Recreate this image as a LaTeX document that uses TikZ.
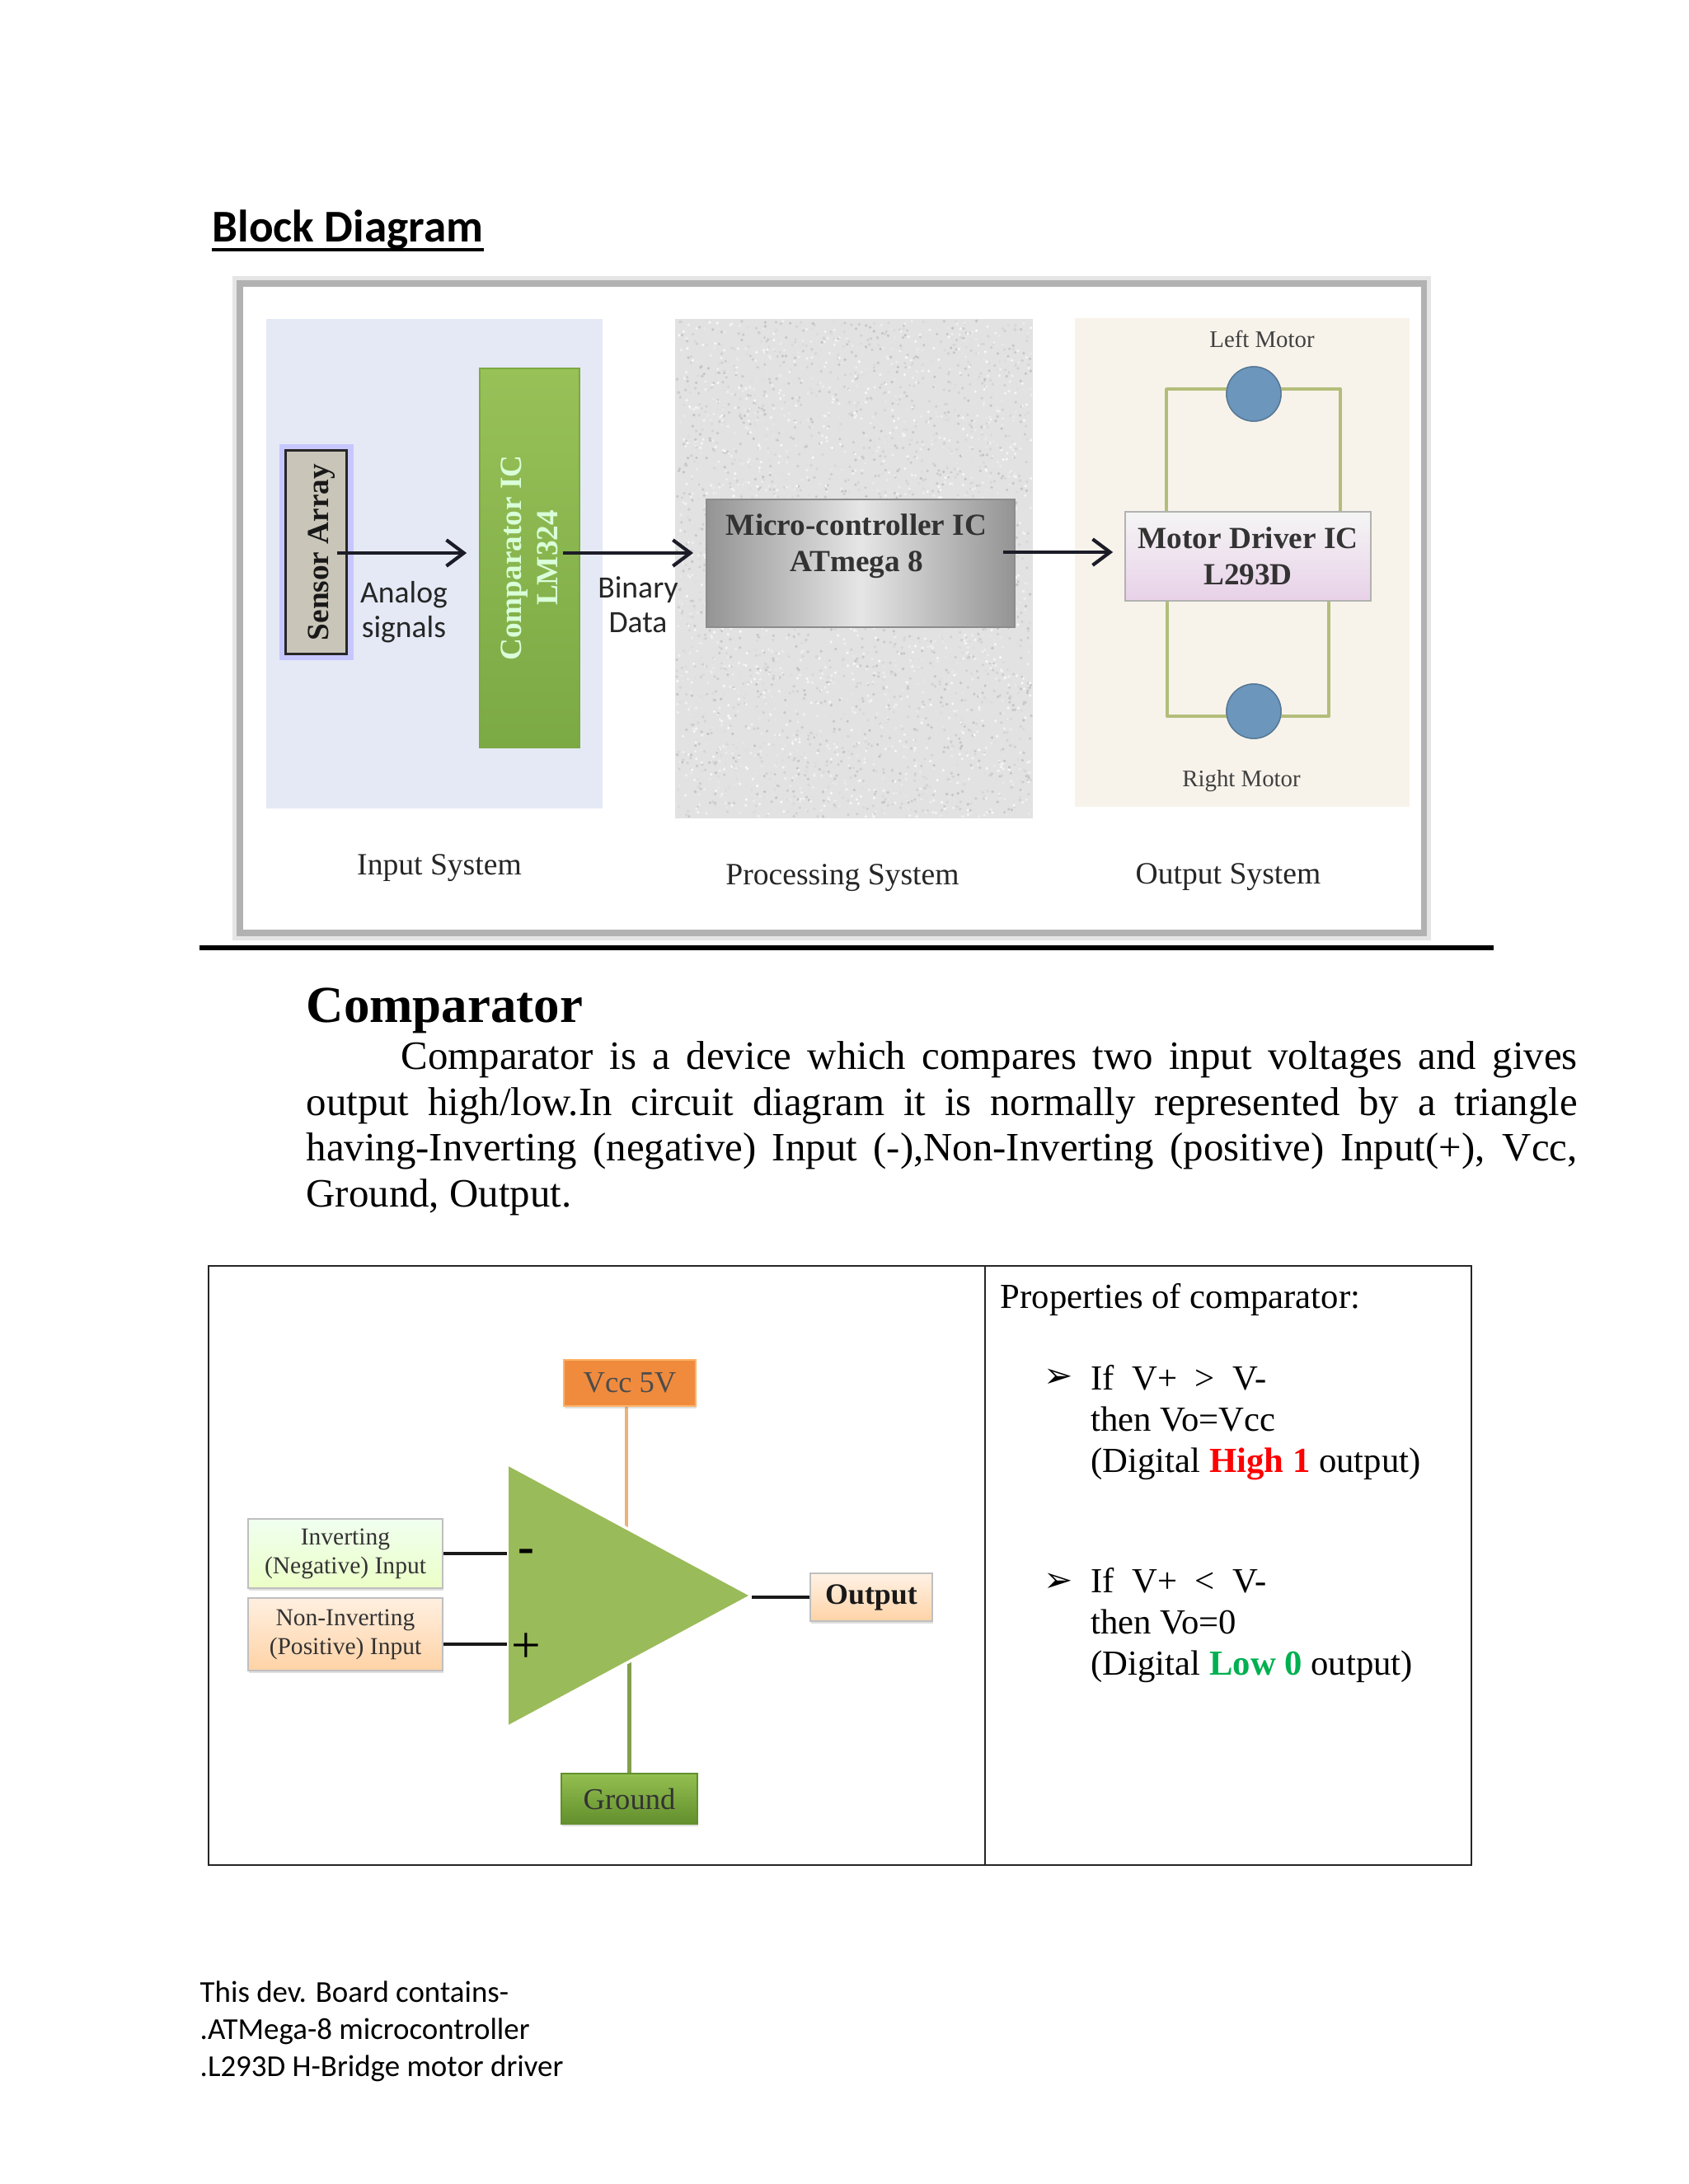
\documentclass[tikz,border=0pt]{standalone}
\usepackage{fontspec}
\setmainfont{Liberation Serif}
\newfontfamily\calibrifont{Carlito}
\newfontfamily\dingfont{DejaVu Sans}
\usepackage{tikz}
\usetikzlibrary{shapes.geometric, arrows.meta, positioning, calc, backgrounds, shadows}

\definecolor{inputbg}{HTML}{E4E9F5}
\definecolor{procbg}{HTML}{E2E2E2}
\definecolor{outputbg}{HTML}{F8F3EA}
\definecolor{wiregreen}{HTML}{B3BD7A}
\definecolor{motorblue}{HTML}{6C96BC}
\definecolor{opampgreen}{HTML}{9ABB59}
\definecolor{darkarrow}{HTML}{1C1C28}
\definecolor{sensorfill}{HTML}{C9C6B9}
\definecolor{comptop}{HTML}{98C158}
\definecolor{compbot}{HTML}{7BA944}
\definecolor{groundtop}{HTML}{93BF50}
\definecolor{groundbot}{HTML}{638F2D}
\definecolor{vccfill}{HTML}{F08B3E}
\definecolor{lowgreen}{HTML}{00B050}

\newcommand{\fullline}[1]{\makebox[15.42cm][s]{#1}}

\begin{document}
\begin{tikzpicture}[
    panel/.style={rectangle, inner sep=0pt},
    chip/.style={rectangle, inner sep=0pt, align=center, text=black!80, font=\fontsize{10.6}{12.5}\selectfont\bfseries},
    tag/.style={rectangle, inner sep=0pt, align=center, draw=black!25, line width=0.6pt, text=black!80, font=\fontsize{8.4}{10}\selectfont, drop shadow={opacity=0.25, shadow xshift=0.3pt, shadow yshift=-0.8pt}},
    caption/.style={inner sep=0pt, align=center, text=black!85, font=\fontsize{10.7}{12.5}\selectfont},
    small/.style={inner sep=0pt, text=black!75, font=\fontsize{8.2}{10}\selectfont},
    note/.style={inner sep=0pt, align=center, text=black!85, font=\calibrifont\fontsize{10.7}{12}\selectfont},
    props/.style={anchor=north west, inner sep=0pt, align=left, font=\fontsize{12.15}{14.15}\selectfont},
    bullet/.style={inner sep=0pt, font=\dingfont\fontsize{12}{12}\selectfont},
    cell/.style={rectangle, draw=black!85, line width=0.6pt},
    motor/.style={circle, inner sep=0pt, minimum size=0.66cm, fill=motorblue, draw=motorblue!80!black, line width=0.4pt},
    wire/.style={draw=wiregreen, line width=1.1pt, line join=round},
    lead/.style={draw=black!90, line width=1pt},
    arrow/.style={-{Straight Barb[length=6pt,width=9pt,line width=1.2pt]}, draw=darkarrow, line width=1.3pt}
]
\useasboundingbox (0,0) rectangle (20.48,-26.5);

% Heading of the first section
\node[anchor=base west, inner sep=0pt, font=\calibrifont\fontsize{15.7}{18}\selectfont\bfseries] (blockhead) at (2.57,-2.93) {Block Diagram};
\draw[line width=1.2pt] (blockhead.south west) -- (blockhead.south east);

% Outer frame and the three system panels
\node[panel, minimum width=14.36cm, minimum height=7.88cm, fill=white, draw=gray!60, line width=2pt, preaction={draw=gray!20, line width=5pt}] (frame) at (10.09,-7.38) {};
\node[panel, minimum width=4.08cm, minimum height=5.94cm, fill=inputbg] (inputpanel) at (5.27,-6.84) {};
\node[panel, minimum width=4.34cm, minimum height=6.06cm, fill=procbg] (procpanel) at (10.36,-6.90) {};
\node[panel, minimum width=4.06cm, minimum height=5.93cm, fill=outputbg] (outputpanel) at (15.07,-6.825) {};

% Grain of the processing panel
\pgfmathsetseed{17}
\foreach \n in {1,...,4000}{
    \pgfmathsetmacro{\px}{8.21+4.30*rnd}
    \pgfmathsetmacro{\py}{-3.89-6.02*rnd}
    \pgfmathsetmacro{\tone}{2+22*rnd}
    \fill[black!\tone] (\px,\py) circle (0.018);
}

% Input system
\node[panel, minimum width=0.90cm, minimum height=2.62cm, fill=blue!22!white] (sensorglow) at (3.835,-6.70) {};
\node[chip, minimum width=0.74cm, minimum height=2.47cm, fill=sensorfill, draw=black!85, line width=1pt] (sensor) at (3.835,-6.70) {};
\node[chip, rotate=90, text=black!90] (sensortext) at ([xshift=0.07cm]sensor.center) {Sensor Array};
\node[chip, minimum width=1.21cm, minimum height=4.60cm, top color=comptop, bottom color=compbot, draw=compbot, line width=0.5pt] (comparatorbox) at (6.425,-6.77) {};
\node[chip, rotate=90, text=green!15!white] (comparatortext) at (comparatorbox) {Comparator IC\\LM324};
\node[note] (analog) at (4.90,-7.43) {Analog\\signals};
\node[note] (binary) at (7.74,-7.34) {Binary\\Data};
\node[caption] (inputcap) at (5.33,-10.53) {Input System};

% Processing system
\node[chip, minimum width=3.74cm, minimum height=1.55cm, left color=black!42, right color=black!42, middle color=black!10, draw=black!45, line width=0.6pt] (micro) at (10.44,-6.835) {};
\node[chip] (microtext) at (10.39,-6.63) {Micro-controller IC\\ATmega 8};
\node[caption] (proccap) at (10.22,-10.65) {Processing System};

% Output system
\node[small] (leftlabel) at (15.31,-4.11) {Left Motor};
\node[small] (rightlabel) at (15.06,-9.48) {Right Motor};
\node[chip, minimum width=2.98cm, minimum height=1.08cm, top color=black!4!white, bottom color=violet!18!white, draw=black!30, line width=0.5pt] (driver) at (15.14,-6.75) {Motor Driver IC\\L293D};
\node[motor] (leftmotor) at (15.21,-4.78) {};
\node[motor] (rightmotor) at (15.21,-8.63) {};
\node[caption] (outputcap) at (14.90,-10.64) {Output System};

% Motor wiring
\coordinate (lefta) at (14.15,-4.72);
\coordinate (leftb) at (16.26,-4.72);
\coordinate (righta) at (14.16,-8.69);
\coordinate (rightb) at (16.12,-8.69);
\draw[wire] (lefta -| leftmotor) -- (lefta) -- (lefta |- driver.north);
\draw[wire] (leftb -| leftmotor) -- (leftb) -- (leftb |- driver.north);
\draw[wire] (righta -| rightmotor) -- (righta) -- (righta |- driver.south);
\draw[wire] (rightb -| rightmotor) -- (rightb) -- (rightb |- driver.south);
\node[motor] at (leftmotor) {};
\node[motor] at (rightmotor) {};

% Main flow arrows
\coordinate (sensorout) at (4.09,-6.71);
\coordinate (binout) at (6.83,-6.71);
\coordinate (microout) at (12.17,-6.70);
\draw[arrow] (sensorout) -- ([xshift=-0.15cm]sensorout -| comparatorbox.west);
\draw[arrow] (binout) -- ([xshift=-0.15cm]binout -| micro.west);
\draw[arrow] (microout) -- ([xshift=-0.14cm]microout -| driver.west);

% Separating rule
\coordinate (rulea) at (2.42,-11.50);
\coordinate (ruleb) at (18.12,-11.50);
\draw[line width=1.5pt] (rulea) -- (ruleb);

% Comparator text
\node[anchor=base west, inner sep=0pt, font=\fontsize{17.9}{20}\selectfont\bfseries] (comphead) at (3.71,-12.40) {Comparator};
\node[anchor=north west, inner sep=0pt, align=left, font=\fontsize{13.9}{15.8}\selectfont] (compbody) at (3.71,-12.63)
    {\fullline{\hspace*{1.15cm}Comparator is a device which compares two input voltages and gives}\\
     \fullline{output high/low.In circuit diagram it is normally represented by a triangle}\\
     \fullline{having-Inverting (negative) Input (-),Non-Inverting (positive) Input(+), Vcc,}\\
     Ground, Output.};

% Table
\node[cell, minimum width=9.42cm, minimum height=7.27cm] (leftcell) at (7.24,-18.995) {};
\node[cell, minimum width=5.90cm, minimum height=7.27cm] (rightcell) at (14.90,-18.995) {};

% Comparator symbol
\node[isosceles triangle, isosceles triangle stretches, anchor=apex, inner sep=0pt, outer sep=0pt, minimum width=3.20cm, minimum height=2.97cm, fill=opampgreen, draw=white, line width=1pt] (opamp) at (9.12,-19.36) {};
\node[tag, minimum width=1.60cm, minimum height=0.56cm, fill=vccfill, draw=orange!60, text=black!70, font=\fontsize{10.4}{12}\selectfont] (vcc) at (7.64,-16.78) {Vcc 5V};
\node[tag, minimum width=1.65cm, minimum height=0.61cm, top color=groundtop, bottom color=groundbot, draw=groundbot, text=black!80, font=\fontsize{10.4}{12}\selectfont] (ground) at (7.635,-21.825) {Ground};
\node[tag, minimum width=2.36cm, minimum height=0.84cm, top color=green!6!white, bottom color=green!35!yellow!22!white] (inverting) at (4.19,-18.85) {Inverting\\(Negative) Input};
\node[tag, minimum width=2.36cm, minimum height=0.88cm, top color=orange!12!white, bottom color=orange!35!white] (noninverting) at (4.19,-19.83) {Non-Inverting\\(Positive) Input};
\node[tag, minimum width=1.48cm, minimum height=0.58cm, top color=orange!10!white, bottom color=orange!35!white, text=black!90, font=\fontsize{10.2}{12}\selectfont\bfseries] (output) at (10.57,-19.38) {Output};
\node[inner sep=0pt, font=\fontsize{17}{18}\selectfont\bfseries] (minussign) at (6.38,-18.88) {-};
\node[inner sep=0pt, font=\fontsize{18}{18}\selectfont] (plussign) at (6.38,-20.00) {+};

% Comparator leads
\draw[lead] (inverting.east) -- (inverting.east -| opamp.lower side);
\draw[lead] ([yshift=-0.12cm]noninverting.east) -- ([yshift=-0.12cm]noninverting.east -| opamp.lower side);
\draw[lead] (opamp.apex |- output.west) -- (output.west);
\begin{scope}[on background layer]
\draw[draw=orange!50!brown!60, line width=1.2pt] ([xshift=-0.04cm]vcc.south) -- ([xshift=-0.04cm]vcc.south |- opamp.apex);
\draw[draw=opampgreen!85!black, line width=1.2pt] (ground.north) -- (ground.north |- opamp.apex);
\end{scope}

% Properties of comparator
\node[props] (propshead) at (12.13,-15.565) {Properties of comparator:};
\node[bullet] (bulletone) at (12.84,-16.72) {➢};
\node[props] (highcase) at (13.23,-16.56) {If~~V+~~>~~V-\\then Vo=Vcc\\(Digital \textcolor{red}{\textbf{High 1}} output)};
\node[bullet] (bullettwo) at (12.84,-19.20) {➢};
\node[props] (lowcase) at (13.23,-19.02) {If~~V+~~<~~V-\\then Vo=0\\(Digital \textcolor{lowgreen}{\textbf{Low 0}} output)};

% Closing note
\node[anchor=north west, inner sep=0pt, align=left, font=\calibrifont\fontsize{10.5}{12.8}\selectfont] (devnote) at (2.42,-24.03)
    {This dev. Board contains-\\.ATMega-8 microcontroller\\.L293D H-Bridge motor driver};

\end{tikzpicture}
\end{document}
